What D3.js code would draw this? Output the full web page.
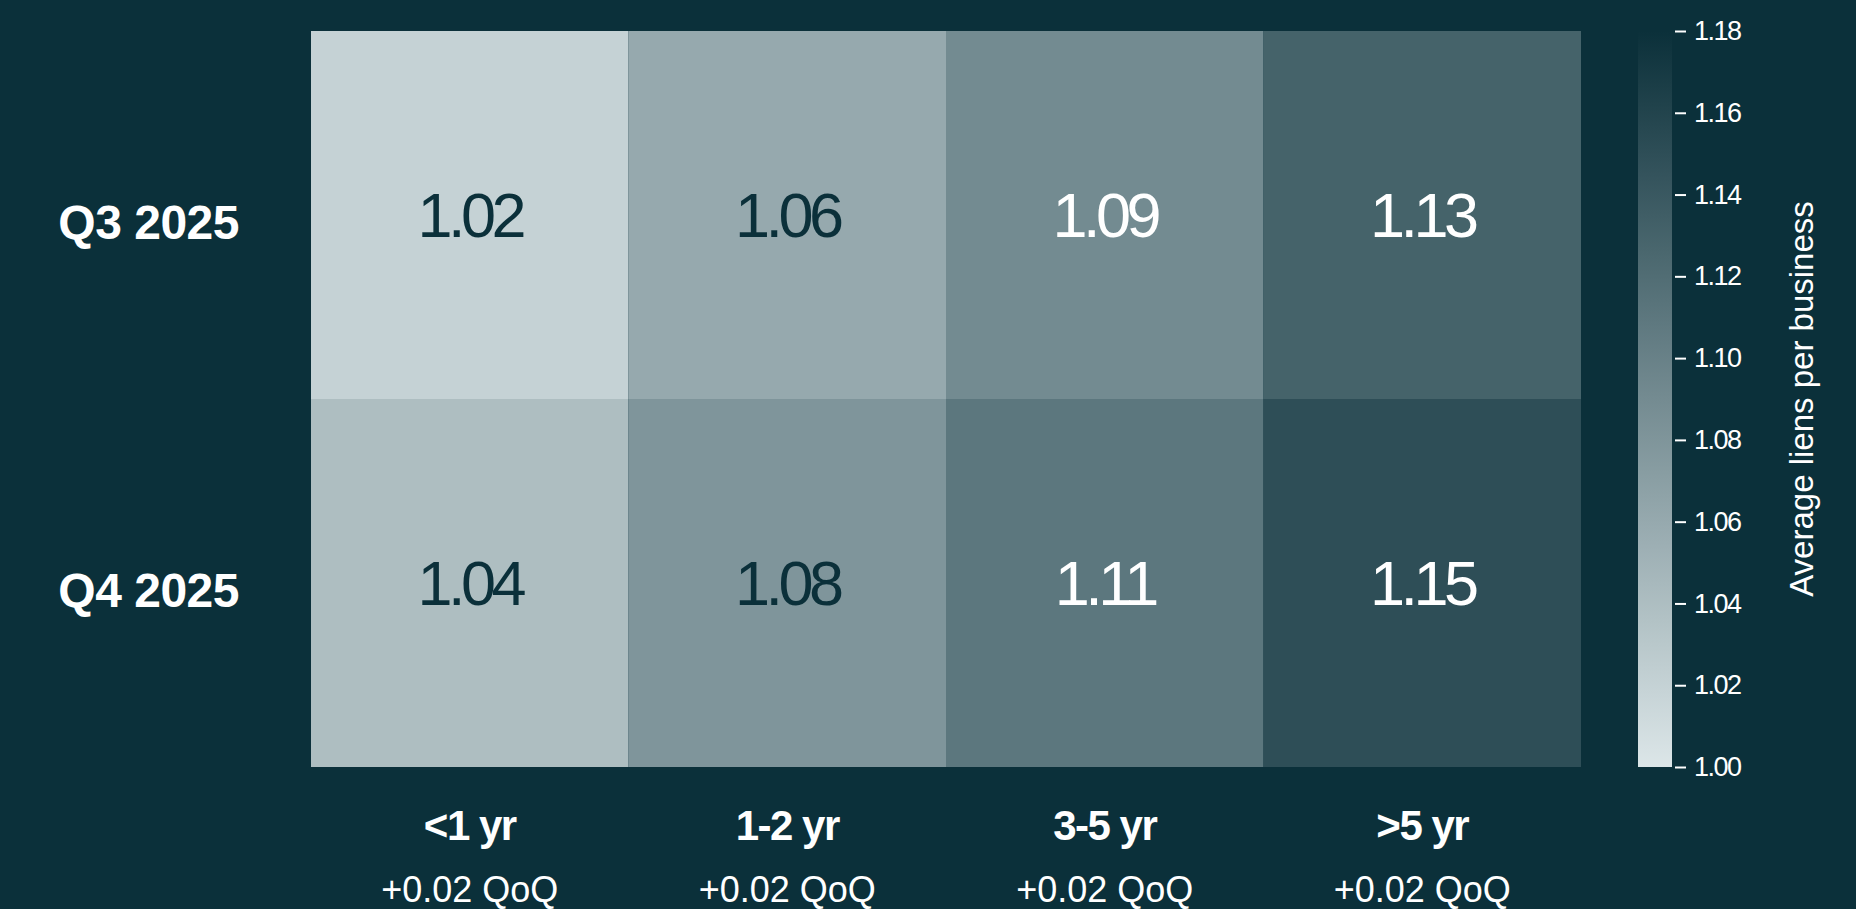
<!DOCTYPE html>
<html>
<head>
<meta charset="utf-8">
<script src="https://cdn.jsdelivr.net/npm/d3@7/dist/d3.min.js"></script>
<style>
  html, body { margin: 0; padding: 0; background: #0b303a; }
  svg { display: block; }
</style>
</head>
<body>
<svg id="chart" width="1856" height="909"></svg>
<script>
// ---- data ----
const rows = ["Q3 2025", "Q4 2025"];
const cols = ["<1 yr", "1-2 yr", "3-5 yr", ">5 yr"];
const q3Values = [1.02, 1.06, 1.09, 1.13];
const q4Values = [1.04, 1.08, 1.11, 1.15];
const qoqLabels = ["+0.02 QoQ", "+0.02 QoQ", "+0.02 QoQ", "+0.02 QoQ"];
const colorTicks = [1.00, 1.02, 1.04, 1.06, 1.08, 1.10, 1.12, 1.14, 1.16, 1.18];
const colorDomain = [1.00, 1.18];
const colorTitle = "Average liens per business";

const cells = [];
[q3Values, q4Values].forEach((vals, r) => vals.forEach((v, c) => cells.push({ row: rows[r], col: cols[c], value: v })));

// ---- layout ----
const BG = "#0b303a";
const LIGHT = "rgb(220,230,232)";
const svg = d3.select("#chart");
svg.append("rect").attr("width", 1856).attr("height", 909).attr("fill", BG);

const x = d3.scaleBand().domain(cols).range([311, 1581]).padding(0);
const y = d3.scaleBand().domain(rows).range([31, 767]).padding(0);
const color = d3.scaleLinear().domain(colorDomain).range([LIGHT, BG]).interpolate(d3.interpolateRgb);

const font = "'Liberation Sans', Arial, sans-serif";

// cells
svg.append("g").selectAll("rect").data(cells).join("rect")
  .attr("x", d => x(d.col)).attr("y", d => y(d.row))
  .attr("width", x.bandwidth()).attr("height", y.bandwidth())
  .attr("fill", d => color(d.value));

svg.append("g").selectAll("text").data(cells).join("text")
  .attr("x", d => x(d.col) + x.bandwidth() / 2)
  .attr("y", d => y(d.row) + y.bandwidth() / 2 + 22)
  .attr("text-anchor", "middle")
  .attr("font-family", font)
  .attr("font-size", 63)
  .attr("letter-spacing", -4.5)
  .attr("fill", d => d.value >= 1.09 ? "#ffffff" : BG)
  .text(d => d.value.toFixed(2));

// row labels
svg.append("g").selectAll("text").data(rows).join("text")
  .attr("x", 239)
  .attr("y", d => y(d) + y.bandwidth() / 2 + 24)
  .attr("text-anchor", "end")
  .attr("font-family", font)
  .attr("font-weight", "bold")
  .attr("font-size", 48)
  .attr("letter-spacing", -0.5)
  .attr("fill", "#ffffff")
  .text(d => d);

// column labels
svg.append("g").selectAll("text").data(cols).join("text")
  .attr("x", d => x(d) + x.bandwidth() / 2)
  .attr("y", 840)
  .attr("text-anchor", "middle")
  .attr("font-family", font)
  .attr("font-weight", "bold")
  .attr("font-size", 42)
  .attr("letter-spacing", -1.5)
  .attr("fill", "#ffffff")
  .text(d => d);

svg.append("g").selectAll("text").data(cols).join("text")
  .attr("x", d => x(d) + x.bandwidth() / 2)
  .attr("y", 902)
  .attr("text-anchor", "middle")
  .attr("font-family", font)
  .attr("font-size", 36)
  .attr("letter-spacing", 0)
  .attr("fill", "#ffffff")
  .text((d, i) => qoqLabels[i]);

// colorbar
const cbX = 1638, cbW = 34;
const cy = d3.scaleLinear().domain(colorDomain).range([767, 31]);
const defs = svg.append("defs");
const grad = defs.append("linearGradient").attr("id", "cbgrad")
  .attr("x1", 0).attr("y1", 1).attr("x2", 0).attr("y2", 0);
d3.range(0, 1.0001, 0.1).forEach(t => {
  const v = colorDomain[0] + t * (colorDomain[1] - colorDomain[0]);
  grad.append("stop").attr("offset", t).attr("stop-color", color(v));
});
svg.append("rect").attr("x", cbX).attr("y", cy(colorDomain[1]))
  .attr("width", cbW).attr("height", cy(colorDomain[0]) - cy(colorDomain[1]))
  .attr("fill", "url(#cbgrad)");

const axis = d3.axisRight(cy).tickValues(colorTicks).tickFormat(d3.format(".2f")).tickSize(11).tickPadding(8);
const axG = svg.append("g").attr("transform", `translate(${cbX + cbW + 3},0)`).call(axis);
axG.select(".domain").remove();
axG.selectAll(".tick line").attr("stroke", "#ffffff").attr("stroke-width", 2);
axG.selectAll(".tick text").attr("fill", "#ffffff")
  .attr("font-family", font).attr("font-size", 27).attr("letter-spacing", -1.5);

svg.append("text")
  .attr("transform", `translate(1813,${(31 + 767) / 2}) rotate(-90)`)
  .attr("text-anchor", "middle")
  .attr("font-family", font)
  .attr("font-size", 33)
  .attr("fill", "#ffffff")
  .text(colorTitle);
</script>
</body>
</html>
